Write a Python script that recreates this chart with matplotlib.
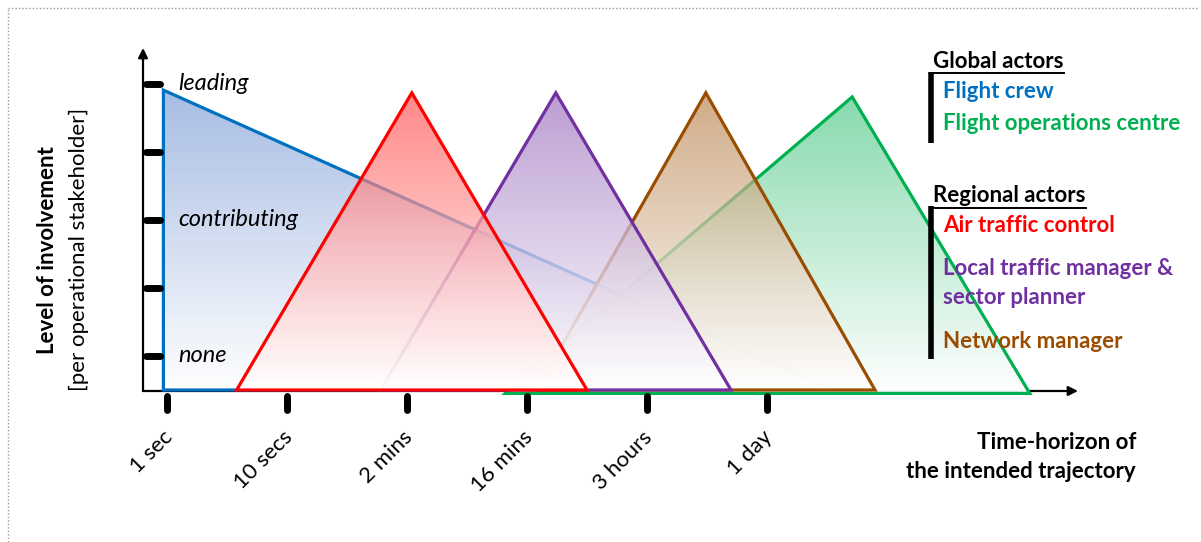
import numpy as np
import matplotlib
matplotlib.use("Agg")
import matplotlib.pyplot as plt
from matplotlib.patches import Polygon
from matplotlib.lines import Line2D

plt.rcParams['font.family'] = ['Lato', 'DejaVu Sans']

# ---------------- data ----------------
tick_labels = ["1 sec", "10 secs", "2 mins", "16 mins", "3 hours", "1 day"]
tick_pos = [0, 1, 2, 3, 4, 5]
level_labels = ["none", "contributing", "leading"]
level_pos = [0.5, 2.5, 4.5]
level_ticks = [0.5, 1.5, 2.5, 3.5, 4.5]

actors = ["Flight crew", "Flight operations centre", "Air traffic control",
          "Local traffic manager &\nsector planner", "Network manager"]
actor_colors = ["#0070C0", "#00B050", "#FF0000", "#7030A0", "#9A4D00"]
fill_colors = ["#4472C4", "#00B050", "#FF0000", "#7030A0", "#9A4D00"]

# triangle vertices (x in time-tick units, y in involvement units)
fc_x = [-0.03, -0.03, 5.55]
fc_y = [4.41, 0.0, 0.0]
foc_x = [2.82, 5.71, 7.19]
foc_y = [-0.05, 4.31, -0.05]
atc_x = [0.58, 2.04, 3.50]
atc_y = [0.0, 4.37, 0.0]
ltm_x = [1.78, 3.24, 4.70]
ltm_y = [0.0, 4.37, 0.0]
nm_x = [3.08, 4.49, 5.90]
nm_y = [0.0, 4.37, 0.0]

# ---------------- layout ----------------
W, H = 1201, 542
X0, SX = 167, 120.0   # pixel of x=0, pixels per tick
Y0, SY = 390, 68.0    # pixel row of y=0, pixels per level

def P(xp, yp):
    return (xp - X0) / SX, (Y0 - yp) / SY

fig = plt.figure(figsize=(W / 100, H / 100), dpi=100)
ax = fig.add_axes([0, 0, 1, 1])
ax.set_axis_off()

def grad_triangle(xs, ys, color, fcolor, z):
    verts = np.column_stack([xs, ys])
    poly = Polygon(verts, closed=True, facecolor='none', edgecolor=color,
                   lw=2.3, zorder=z + 0.5, joinstyle='miter')
    ax.add_patch(poly)
    base = np.array(matplotlib.colors.to_rgb(fcolor))
    n = 256
    t = np.linspace(0, 1, n)  # 0 bottom, 1 top
    alpha = 0.55 + 0.42 * (1 - t)
    f = np.clip(0.47 * t / alpha, 0, 1)
    rgb = (1 - f)[:, None] * np.ones(3) + f[:, None] * base
    img = np.zeros((n, 1, 4))
    img[:, 0, :3] = rgb
    img[:, 0, 3] = alpha
    im = ax.imshow(img, extent=[min(xs), max(xs), min(ys), max(ys)],
                   origin='lower', aspect='auto', interpolation='bilinear',
                   zorder=z)
    im.set_clip_path(poly)

grad_triangle(fc_x, fc_y, actor_colors[0], fill_colors[0], 2)
grad_triangle(foc_x, foc_y, actor_colors[1], fill_colors[1], 3)
grad_triangle(nm_x, nm_y, actor_colors[4], fill_colors[4], 4)
grad_triangle(ltm_x, ltm_y, actor_colors[3], fill_colors[3], 5)
grad_triangle(atc_x, atc_y, actor_colors[2], fill_colors[2], 6)

ax.set_xlim((0 - X0) / SX, (W - X0) / SX)
ax.set_ylim((Y0 - H) / SY, (Y0 - 0) / SY)

# axes arrows
x_a0, y_a0 = P(143, 391)
x_end, _ = P(1078, 391)
_, y_end = P(143, 48)
ax.annotate("", xy=(x_end, y_a0), xytext=(x_a0, y_a0),
            arrowprops=dict(arrowstyle='-|>', color='black', lw=1.6,
                            mutation_scale=14, shrinkA=0, shrinkB=0), zorder=1)
ax.annotate("", xy=(x_a0, y_end), xytext=(x_a0, y_a0),
            arrowprops=dict(arrowstyle='-|>', color='black', lw=1.6,
                            mutation_scale=14, shrinkA=0, shrinkB=0), zorder=1)

# y ticks (thick bars)
xl, _ = P(146, 0)
xr, _ = P(160, 0)
for lv in level_ticks:
    ax.plot([xl, xr], [lv, lv], color='black', lw=5, solid_capstyle='round', zorder=8)

# x ticks
_, yt0 = P(0, 396)
_, yt1 = P(0, 410)
for xp in tick_pos:
    ax.plot([xp, xp], [yt0, yt1], color='black', lw=5, solid_capstyle='round', zorder=8)

# x tick labels
_, ylab = P(0, 427)
for xp, lab in zip(tick_pos, tick_labels):
    ax.text(xp - 5 / SX, ylab, lab, rotation=45, rotation_mode='anchor',
            ha='right', va='top', fontsize=16, zorder=9)

# level labels
xlvl, _ = P(178, 0)
for lv, lab in zip(level_pos, level_labels):
    ax.text(xlvl, lv, lab, style='italic', fontsize=17, ha='left', va='center', zorder=9)

# axis titles
fig.text(48 / W, 1 - 250 / H, "Level of involvement", rotation=90, fontsize=16,
         fontweight='bold', ha='center', va='center')
fig.text(79 / W, 1 - 249 / H, "[per operational stakeholder]", rotation=90,
         fontsize=16, ha='center', va='center')
fig.text(1136 / W, 1 - 457 / H, "Time-horizon of\nthe intended trajectory",
         fontsize=16, fontweight='bold', ha='right', va='center',
         multialignment='right', linespacing=1.42)

# legend
renderer = fig.canvas.get_renderer()

def heading(yp, text):
    t = fig.text(933 / W, 1 - yp / H, text, fontsize=16, fontweight='bold',
                 ha='left', va='center', color='black')
    bb = t.get_window_extent(renderer=renderer)
    yl = bb.y0 - 1
    fig.add_artist(Line2D([bb.x0 / W, bb.x1 / W], [yl / H, yl / H],
                          color='black', lw=1.4, transform=fig.transFigure))

def bar(y0p, y1p):
    fig.add_artist(Line2D([931 / W, 931 / W], [1 - y0p / H, 1 - y1p / H],
                          color='black', lw=4, transform=fig.transFigure,
                          solid_capstyle='butt'))

heading(61, "Global actors")
bar(72, 143)
heading(196, "Regional actors")
bar(206, 359)

legend_y = [92, 124, 226, 283, 341]
for yp, lab, c in zip(legend_y, actors, actor_colors):
    fig.text(943 / W, 1 - yp / H, lab, fontsize=16, fontweight='bold', color=c,
             ha='left', va='center', linespacing=1.45)

# dotted frame
fig.add_artist(Line2D([8 / W, 8 / W], [0, 1 - 8 / H], color='#9a9a9a', lw=1,
                      ls=(0, (1, 1.5)), transform=fig.transFigure))
fig.add_artist(Line2D([8 / W, 1197 / W], [1 - 8 / H, 1 - 8 / H], color='#9a9a9a',
                      lw=1, ls=(0, (1, 1.5)), transform=fig.transFigure))

fig.savefig("out.png", dpi=100)
